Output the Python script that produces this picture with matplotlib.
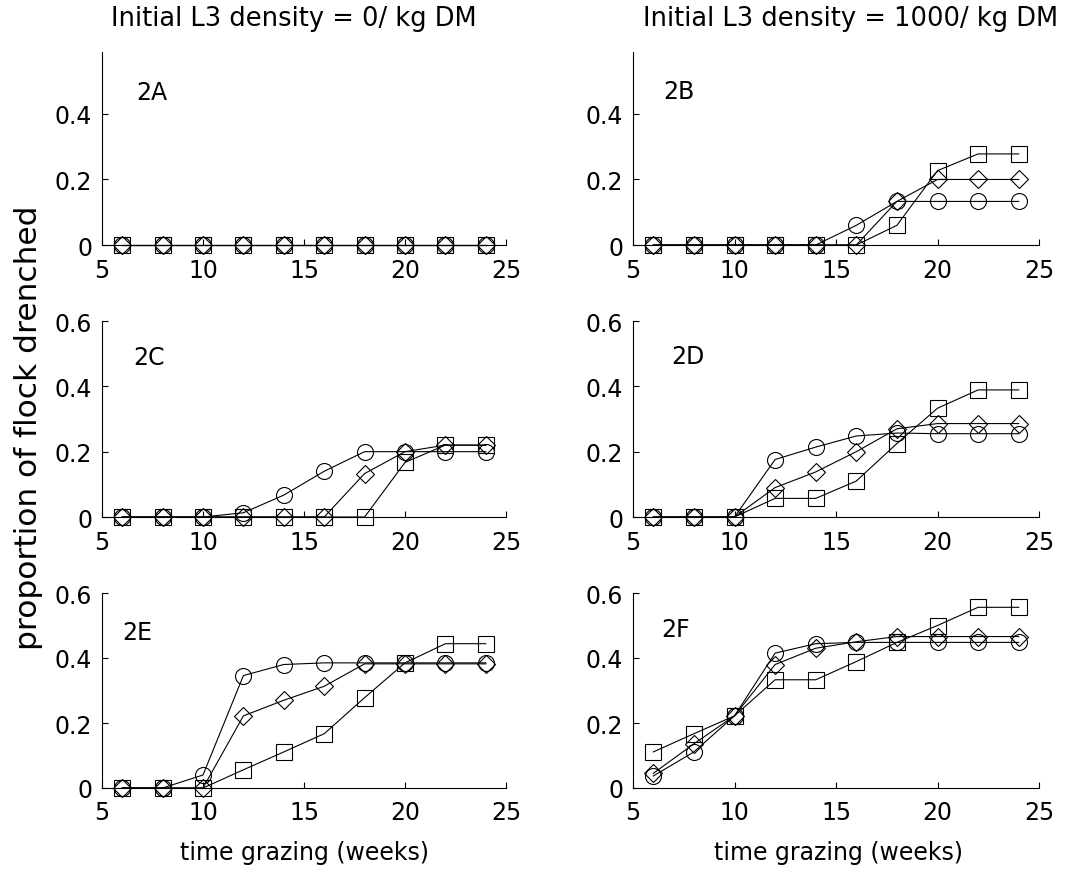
import matplotlib
matplotlib.use('Agg')
import matplotlib.pyplot as plt

plt.rcParams['font.family'] = ['DejaVu Sans']

weeks = [6, 8, 10, 12, 14, 16, 18, 20, 22, 24]

# panel 2A  (initial L3 = 0)
a_circle = [0, 0, 0, 0, 0, 0, 0, 0, 0, 0]
a_diamond = [0, 0, 0, 0, 0, 0, 0, 0, 0, 0]
a_square = [0, 0, 0, 0, 0, 0, 0, 0, 0, 0]
# panel 2B  (initial L3 = 1000)
b_circle = [0, 0, 0, 0, 0, 0.06, 0.133, 0.133, 0.133, 0.133]
b_diamond = [0, 0, 0, 0, 0, 0, 0.133, 0.2, 0.2, 0.2]
b_square = [0, 0, 0, 0, 0, 0, 0.06, 0.227, 0.278, 0.278]
# panel 2C
c_circle = [0, 0, 0, 0.013, 0.067, 0.14, 0.2, 0.2, 0.2, 0.2]
c_diamond = [0, 0, 0, 0, 0, 0, 0.133, 0.2, 0.22, 0.22]
c_square = [0, 0, 0, 0, 0, 0, 0, 0.167, 0.22, 0.22]
# panel 2D
d_circle = [0, 0, 0, 0.176, 0.214, 0.248, 0.257, 0.255, 0.255, 0.255]
d_diamond = [0, 0, 0, 0.09, 0.138, 0.2, 0.27, 0.286, 0.286, 0.286]
d_square = [0, 0, 0, 0.057, 0.057, 0.11, 0.225, 0.333, 0.389, 0.389]
# panel 2E
e_circle = [0, 0, 0.04, 0.346, 0.38, 0.385, 0.385, 0.385, 0.385, 0.385]
e_diamond = [0, 0, 0, 0.222, 0.27, 0.313, 0.382, 0.382, 0.382, 0.382]
e_square = [0, 0, 0, 0.056, 0.111, 0.167, 0.278, 0.385, 0.444, 0.444]
# panel 2F
f_circle = [0.037, 0.111, 0.222, 0.415, 0.444, 0.448, 0.448, 0.448, 0.448, 0.448]
f_diamond = [0.045, 0.136, 0.222, 0.38, 0.43, 0.45, 0.466, 0.466, 0.466, 0.466]
f_square = [0.111, 0.167, 0.222, 0.333, 0.333, 0.389, 0.448, 0.5, 0.556, 0.556]

panel_labels = ['2A', '2B', '2C', '2D', '2E', '2F']
col_titles = ['Initial L3 density = 0/ kg DM', 'Initial L3 density = 1000/ kg DM']
xlabel = 'time grazing (weeks)'
ylabel = 'proportion of flock drenched'

panels = [
    (a_circle, a_diamond, a_square),
    (b_circle, b_diamond, b_square),
    (c_circle, c_diamond, c_square),
    (d_circle, d_diamond, d_square),
    (e_circle, e_diamond, e_square),
    (f_circle, f_diamond, f_square),
]

W, H = 1066, 870
fig = plt.figure(figsize=(W / 100, H / 100), dpi=100)

# axes boxes in pixels: (left, right) per column, (top, bottom, ymax) per row
cols = [(102, 506), (633, 1039)]
rows = [(52.7, 246, 0.59), (322, 518, 0.6), (594, 789, 0.6)]
label_pos = [(6.7, 0.467), (6.5, 0.47), (6.55, 0.489), (6.9, 0.494), (6.02, 0.479), (6.41, 0.489)]

for i, series in enumerate(panels):
    r, c = divmod(i, 2)
    x0, x1 = cols[c]
    top, bot, ymax = rows[r]
    ax = fig.add_axes([x0 / W, 1 - bot / H, (x1 - x0) / W, (bot - top) / H])
    circ, diam, sq = series
    style = dict(color='black', lw=0.8, mfc='none', mec='black', mew=0.8, clip_on=False)
    ax.plot(weeks, circ, marker='o', ms=11.5, **style)
    ax.plot(weeks, diam, marker='D', ms=9, **style)
    ax.plot(weeks, sq, marker='s', ms=11.5, **style)

    ax.set_xlim(5, 25)
    ax.set_ylim(0, ymax)
    ax.set_xticks([5, 10, 15, 20, 25])
    if r == 0:
        ax.set_yticks([0, 0.2, 0.4])
        ax.set_yticklabels(['0', '0.2', '0.4'])
    else:
        ax.set_yticks([0, 0.2, 0.4, 0.6])
        ax.set_yticklabels(['0', '0.2', '0.4', '0.6'])
    for s in ['top', 'right']:
        ax.spines[s].set_visible(False)
    for s in ['left', 'bottom']:
        ax.spines[s].set_linewidth(0.8)
    ax.tick_params(direction='in', length=4, width=0.8, labelsize=17)
    ax.tick_params(axis='x', pad=9)
    ax.tick_params(axis='y', pad=7)
    lx, ly = label_pos[i]
    ax.text(lx, ly, panel_labels[i], fontsize=17, ha='left', va='center')

fig.text(294 / W, 1 - 19 / H, col_titles[0], fontsize=18.5, ha='center', va='center')
fig.text(851 / W, 1 - 19 / H, col_titles[1], fontsize=18.5, ha='center', va='center')
fig.text(304 / W, 1 - 853 / H, xlabel, fontsize=17, ha='center', va='center')
fig.text(838 / W, 1 - 853 / H, xlabel, fontsize=17, ha='center', va='center')
fig.text(29 / W, 1 - 428 / H, ylabel, fontsize=22.5, ha='center', va='center', rotation=90)

fig.savefig('out.png', dpi=100)
